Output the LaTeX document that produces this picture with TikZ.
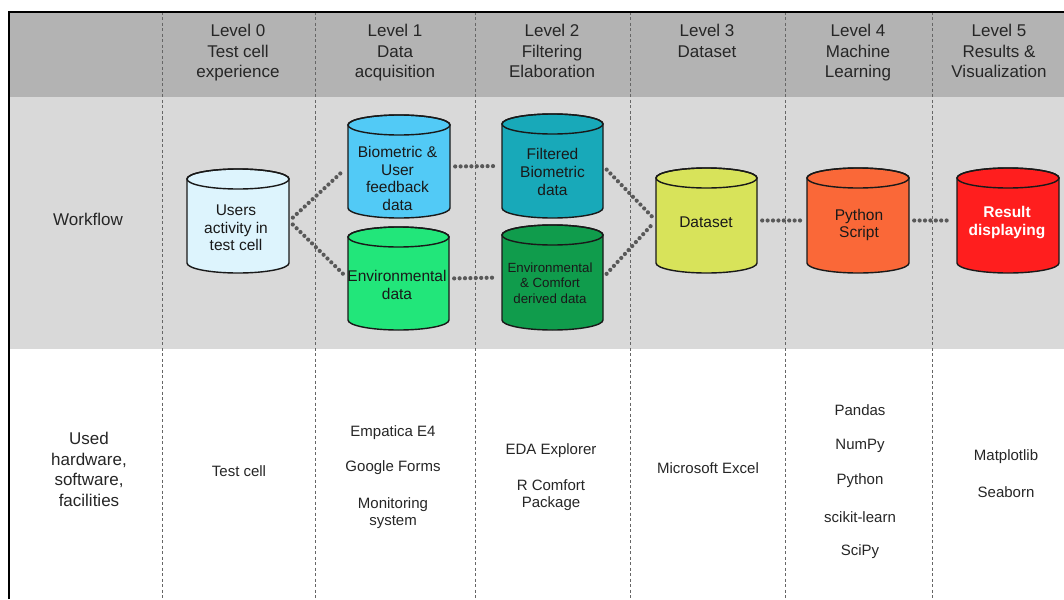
\documentclass[tikz,border=0pt]{standalone}
\usepackage{fontspec}
\setmainfont{Liberation Sans}
\definecolor{hdrgray}{HTML}{B3B3B3}
\definecolor{bandgray}{HTML}{D9D9D9}
\definecolor{cUsers}{HTML}{DDF4FD}
\definecolor{cBio}{HTML}{52CAF6}
\definecolor{cEnv}{HTML}{22E67A}
\definecolor{cFilt}{HTML}{18A9B9}
\definecolor{cEnvc}{HTML}{109C4C}
\definecolor{cData}{HTML}{D8E35A}
\definecolor{cPy}{HTML}{FA6838}
\definecolor{cRes}{HTML}{FF1E1E}
\newcommand{\drawcyl}[6]{%
  \pgfmathsetmacro\cylcx{(#2+#3)/2}%
  \pgfmathsetmacro\cylrx{(#3-#2)/2}%
  \filldraw[cylline,fill=#6] (#2,-#4) -- (#2,-#5)
    arc[start angle=180,end angle=360,x radius=\cylrx pt,y radius=10pt]
    -- (#3,-#4)
    arc[start angle=0,end angle=180,x radius=\cylrx pt,y radius=10pt] -- cycle;
  \draw[cylline] (\cylcx,-#4) ellipse[x radius=\cylrx pt,y radius=10pt];
  \node[body,minimum width={(#3-#2)*1pt},minimum height={(#5-#4)*1pt}] (#1) at (\cylcx,{-(#4+#5)/2}) {};
}
\begin{document}
\begin{tikzpicture}[x=1pt,y=1pt,
  hdr/.style={align=center,font=\fontsize{17}{20.5}\selectfont,inner sep=0pt,text=black!85},
  colhdr/.style={hdr,anchor=north},
  item/.style={align=center,font=\fontsize{15}{17.5}\selectfont,inner sep=0pt,text=black!85},
  ctext/.style={align=center,font=\fontsize{15.5}{17.7}\selectfont,inner sep=0pt,text=black!90},
  body/.style={inner sep=0pt,draw=none},
  cylline/.style={draw=black!90,line width=1.4pt},
  sep/.style={draw=black!60,line width=0.9pt,dash pattern=on 3pt off 2.5pt},
  flow/.style={draw=black!65,line width=4.2pt,dash pattern=on 0pt off 5.4pt,line cap=round,shorten <=5pt,shorten >=5pt}]
\useasboundingbox (0,0) rectangle (1064,-599);
\fill[white] (0,0) rectangle (1064,-599);
\fill[hdrgray] (9,-12) rectangle (1064,-97.5);
\fill[bandgray] (9,-97.5) rectangle (1064,-349);
\foreach \x in {162,315,475,630,785,932} \draw[sep] (\x,-12) -- (\x,-599);
\draw[line width=1.5pt] (9,-599) -- (9,-12) -- (1064,-12);

% header
\node[colhdr] (h0) at (238,-24) {Level 0\\Test cell\\experience};
\node[colhdr] (h1) at (395,-24) {Level 1\\Data\\acquisition};
\node[colhdr] (h2) at (552,-24) {Level 2\\Filtering\\Elaboration};
\node[colhdr] (h3) at (707,-24) {Level 3\\Dataset};
\node[colhdr] (h4) at (858,-24) {Level 4\\Machine\\Learning};
\node[colhdr] (h5) at (999,-24) {Level 5\\Results \&\\Visualization};

% row labels
\node[hdr] (rw) at (88,-219) {Workflow};
\node[hdr] (rh) at (89,-469.5) {Used\\hardware,\\software,\\facilities};

% cylinders
\drawcyl{users}{187}{289}{179}{263}{cUsers}
\drawcyl{bio}{348}{450}{125}{208}{cBio}
\drawcyl{env}{348}{449}{237}{320}{cEnv}
\drawcyl{filt}{502}{603}{124}{208}{cFilt}
\drawcyl{envc}{502}{603}{235}{320}{cEnvc}
\drawcyl{data}{656}{757}{178}{263}{cData}
\drawcyl{py}{807}{909}{178}{263}{cPy}
\drawcyl{res}{957}{1059}{178}{263}{cRes}

\node[ctext] (tusers) at (236,-228) {Users\\activity in\\test cell};
\node[ctext] (tbio) at (397.5,-178.5) {Biometric \&\\User\\feedback\\data};
\node[ctext] (tenv) at (397,-285) {Environmental\\data};
\node[ctext] (tfilt) at (552.5,-172) {Filtered\\Biometric\\data};
\node[ctext,font=\fontsize{13.3}{15.5}\selectfont] (tenvc) at (550,-283) {Environmental\\\& Comfort\\derived data};
\node[ctext] (tdata) at (706,-222) {Dataset};
\node[ctext] (tpy) at (859,-225) {Python\\Script};
\node[ctext,text=white,font=\bfseries\fontsize{15.5}{18.5}\selectfont] (tres) at (1007,-222.5) {Result\\displaying};

% connectors
\draw[flow] (users.east) -- (bio.west);
\draw[flow] (users.east) -- (env.west);
\draw[flow] (bio.east) -- (filt.west);
\draw[flow] (env.east) -- (envc.west);
\draw[flow] (filt.east) -- (data.west);
\draw[flow] (envc.east) -- (data.west);
\draw[flow] (data.east) -- (py.west);
\draw[flow] (py.east) -- (res.west);

% tools
\node[item] (b0) at (239,-471) {Test cell};
\node[item] (b1a) at (393,-433) {Empatica E4};
\node[item] (b1b) at (393,-468) {Google Forms};
\node[item] (b1c) at (393,-513) {Monitoring\\system};
\node[item] (b2a) at (551,-451) {EDA Explorer};
\node[item] (b2b) at (551,-495) {R Comfort\\Package};
\node[item] (b3) at (708,-468) {Microsoft Excel};
\node[item] (b4a) at (860,-410) {Pandas};
\node[item] (b4b) at (860,-446) {NumPy};
\node[item] (b4c) at (860,-481) {Python};
\node[item] (b4d) at (860,-517) {scikit-learn};
\node[item] (b4e) at (860,-552) {SciPy};
\node[item] (b5a) at (1006,-457) {Matplotlib};
\node[item] (b5b) at (1006,-492) {Seaborn};
\end{tikzpicture}
\end{document}
